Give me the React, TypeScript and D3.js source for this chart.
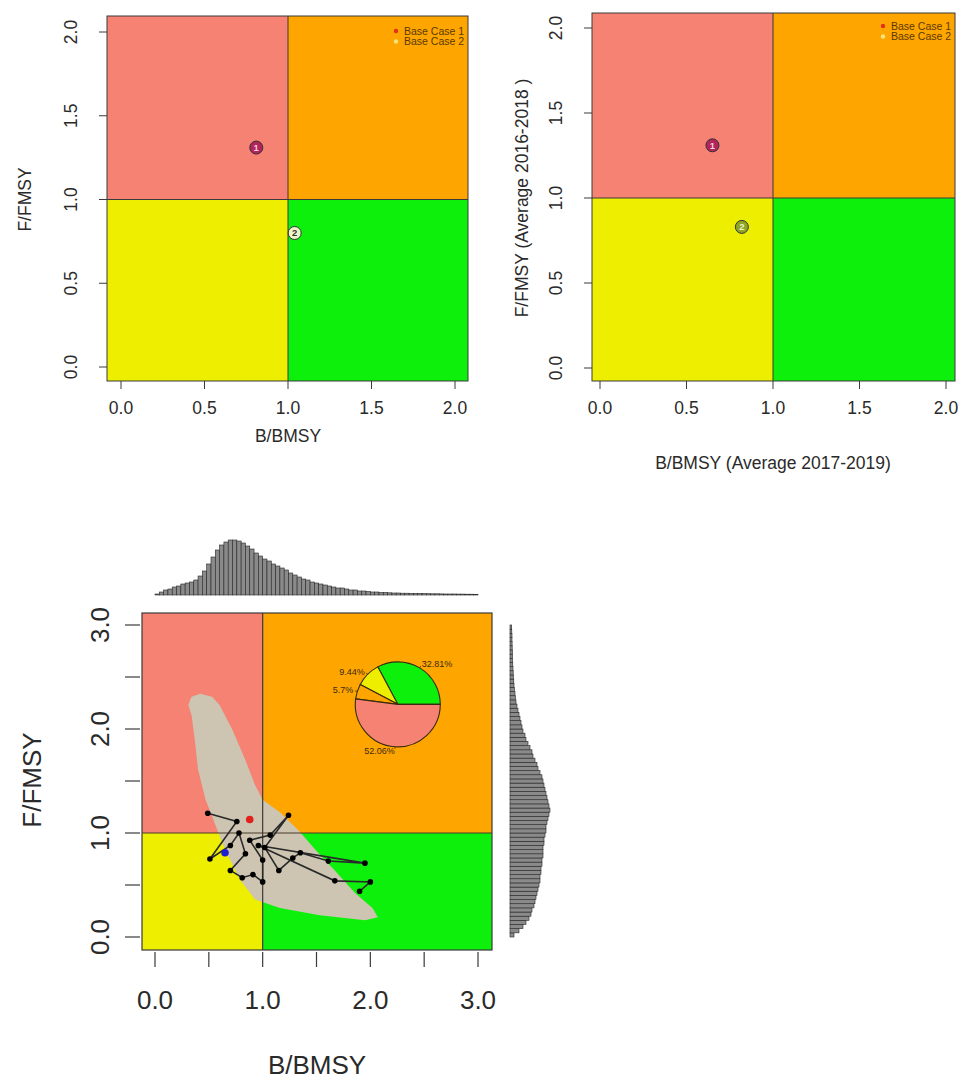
import React from "react";
import * as d3 from "d3";

// ---------- data ----------
const caseLabels = ["Base Case 1", "Base Case 2"];
const caseIds = ["1", "2"];

// Terminal-year stock status per case
const statusB = [0.81, 1.04];
const statusF = [1.31, 0.8];

// Multi-year average stock status per case
const avgB = [0.65, 0.82];
const avgF = [1.31, 0.83];

const smallTicks = [0, 0.5, 1, 1.5, 2];
const smallTickLabels = ["0.0", "0.5", "1.0", "1.5", "2.0"];
const bigTicks = [0, 0.5, 1, 1.5, 2, 2.5, 3];
const bigTickLabels = ["0.0", "", "1.0", "", "2.0", "", "3.0"];

// Historical trajectory (B/BMSY, F/FMSY by year)
const trajB = [0.49, 0.76, 0.51, 0.7, 0.78, 0.84, 0.7, 0.81, 0.91, 1.0, 1.0, 0.88, 1.07, 1.24, 1.02, 1.15, 1.28, 1.35, 1.61, 1.95, 0.96, 1.67, 2.0, 1.9];
const trajF = [1.19, 1.11, 0.75, 0.88, 1.0, 0.8, 0.64, 0.57, 0.6, 0.53, 0.74, 0.93, 0.98, 1.17, 0.86, 0.64, 0.76, 0.81, 0.73, 0.71, 0.88, 0.54, 0.53, 0.44];

// Highlighted years (first, last)
const markB = [0.65, 0.88];
const markF = [0.81, 1.13];

// Outline of the terminal-year uncertainty cloud
const cloudB = [0.34, 0.42, 0.53, 0.6, 0.72, 0.84, 0.93, 1.0, 1.16, 1.33, 1.49, 1.67, 1.86, 2.02, 2.07, 1.95, 1.53, 1.16, 0.93, 0.79, 0.65, 0.56, 0.47, 0.4, 0.37, 0.34, 0.31, 0.33];
const cloudF = [2.31, 2.34, 2.31, 2.23, 1.99, 1.7, 1.46, 1.32, 1.2, 1.03, 0.84, 0.64, 0.42, 0.28, 0.19, 0.16, 0.21, 0.28, 0.36, 0.55, 0.84, 1.08, 1.32, 1.61, 1.89, 2.13, 2.23, 2.29];

// Quadrant probabilities (green, yellow, orange, red)
const pieShares = [32.81, 9.44, 5.7, 52.06];
const pieLabels = ["32.81%", "9.44%", "5.7%", "52.06%"];

// Marginal densities, bins of 0.04 starting at 0
const binWidth = 0.04;
const margB = [1, 3, 5, 6, 8, 9, 11, 12, 13, 15, 19, 24, 31, 38, 45, 50, 53, 55, 55, 54, 52, 49, 46, 42, 39, 36, 34, 31, 29, 27, 25, 22, 20, 18, 16, 15, 13, 12, 11, 10, 9, 8, 7, 7, 6, 5, 5, 4, 4, 3.5, 3, 3, 2.5, 2.5, 2.2, 2, 2, 1.8, 1.8, 1.6, 1.5, 1.5, 1.4, 1.3, 1.2, 1.2, 1.1, 1, 1, 1, 0.9, 0.9, 0.8, 0.8, 0.7];
const margF = [4, 9, 13, 16, 19, 21, 22, 24, 25, 26, 27, 28, 29, 30, 30, 31, 31, 32, 32, 33, 33, 33, 34, 34, 35, 36, 36, 37, 38, 39, 40, 39, 38, 37, 36, 35, 34, 33, 32, 30, 28, 27, 25, 23, 22, 20, 18, 16, 15, 13, 12, 11, 10, 9, 8, 7, 6, 5.5, 5, 4.5, 4, 3.8, 3.5, 3.2, 3, 2.8, 2.6, 2.5, 2.4, 2.2, 2.1, 2, 2, 1.8, 1.7];

// ---------- styling ----------
const FONT = "'Liberation Sans', Arial, Helvetica, sans-serif";
const C_RED = "#F58272";
const C_ORANGE = "#FFA500";
const C_YELLOW = "#EEEE00";
const C_GREEN = "#0CF00C";
const C_LINE = "#3a3a3a";
const C_TEXT = "#2a2a2a";
const C_CLOUD = "#CDC5B1";
const FS_SMALL = 17.5;
const FS_BIG = 26;

type PanelCfg = {
  xr: [number, number];
  yr: [number, number];
  box: { l: number; r: number; t: number; b: number };
};

function Quadrants({ x, y, box }: { x: any; y: any; box: PanelCfg["box"] }) {
  const mx = x(1);
  const my = y(1);
  return (
    <g>
      <rect x={box.l} y={box.t} width={mx - box.l} height={my - box.t} fill={C_RED} />
      <rect x={mx} y={box.t} width={box.r - mx} height={my - box.t} fill={C_ORANGE} />
      <rect x={box.l} y={my} width={mx - box.l} height={box.b - my} fill={C_YELLOW} />
      <rect x={mx} y={my} width={box.r - mx} height={box.b - my} fill={C_GREEN} />
    </g>
  );
}

function SmallPanel({
  cfg,
  bs,
  fs,
  xTitle,
  yTitle,
  xTitleY,
  yTitleX,
  legendX,
  legendY,
  pt2Fill,
  pt2Text,
}: {
  cfg: PanelCfg;
  bs: number[];
  fs: number[];
  xTitle: string;
  yTitle: string;
  xTitleY: number;
  yTitleX: number;
  legendX: number;
  legendY: number;
  pt2Fill: string;
  pt2Text: string;
}) {
  const x = d3.scaleLinear().domain([0, 2]).range(cfg.xr);
  const y = d3.scaleLinear().domain([0, 2]).range(cfg.yr);
  const { box } = cfg;
  const fills = ["#B3245A", pt2Fill];
  const txt = ["#f4d0dc", pt2Text];
  const legendDots = ["#E0301E", "#F2E37A"];
  return (
    <g>
      <Quadrants x={x} y={y} box={box} />
      <line x1={x(1)} x2={x(1)} y1={box.t} y2={box.b} stroke={C_LINE} strokeWidth={1} />
      <line x1={box.l} x2={box.r} y1={y(1)} y2={y(1)} stroke={C_LINE} strokeWidth={1} />
      <rect x={box.l} y={box.t} width={box.r - box.l} height={box.b - box.t} fill="none" stroke={C_LINE} strokeWidth={1} />
      {smallTicks.map((t, i) => (
        <g key={"xt" + i}>
          <line x1={x(t)} x2={x(t)} y1={box.b} y2={box.b + 8} stroke={C_LINE} />
          <text x={x(t)} y={408} dy="0.35em" textAnchor="middle" fontSize={FS_SMALL} fill={C_TEXT} fontFamily={FONT}>
            {smallTickLabels[i]}
          </text>
        </g>
      ))}
      {smallTicks.map((t, i) => (
        <g key={"yt" + i}>
          <line x1={box.l - 8} x2={box.l} y1={y(t)} y2={y(t)} stroke={C_LINE} />
          <text
            transform={`translate(${box.l - 36},${y(t)}) rotate(-90)`}
            dy="0.35em"
            textAnchor="middle"
            fontSize={FS_SMALL}
            fill={C_TEXT}
            fontFamily={FONT}
          >
            {smallTickLabels[i]}
          </text>
        </g>
      ))}
      <text x={x(1)} y={xTitleY} dy="0.35em" textAnchor="middle" fontSize={FS_SMALL} fill={C_TEXT} fontFamily={FONT}>
        {xTitle}
      </text>
      <text
        transform={`translate(${yTitleX},${y(1)}) rotate(-90)`}
        dy="0.35em"
        textAnchor="middle"
        fontSize={FS_SMALL}
        fill={C_TEXT}
        fontFamily={FONT}
      >
        {yTitle}
      </text>
      {bs.map((b, i) => (
        <g key={"pt" + i}>
          <circle cx={x(b)} cy={y(fs[i])} r={6.5} fill={fills[i]} stroke="#333" strokeWidth={1} />
          <text x={x(b)} y={y(fs[i])} dy="0.36em" textAnchor="middle" fontSize={9.5} fontWeight="bold" fill={txt[i]} fontFamily={FONT}>
            {caseIds[i]}
          </text>
        </g>
      ))}
      {caseLabels.map((c, i) => (
        <g key={"lg" + i}>
          <circle cx={legendX} cy={legendY + i * 10.5} r={2.2} fill={legendDots[i]} />
          <text x={legendX + 8} y={legendY + i * 10.5} dy="0.35em" fontSize={10.5} fill="#5a3a00" fontFamily={FONT}>
            {c}
          </text>
        </g>
      ))}
    </g>
  );
}

function BigPanel() {
  const box = { l: 142, r: 492, t: 613, b: 950 };
  const x = d3.scaleLinear().domain([0, 3]).range([155, 478]);
  const y = d3.scaleLinear().domain([0, 3]).range([937, 625]);

  const cloudPts: [number, number][] = cloudB.map((b, i) => [x(b), y(cloudF[i])]);
  const cloudPath = d3.line().curve(d3.curveLinearClosed)(cloudPts) || "";
  const trajPts: [number, number][] = trajB.map((b, i) => [x(b), y(trajF[i])]);
  const trajPath = d3.line()(trajPts) || "";

  // Pie in R's convention: start at 3 o'clock, counter-clockwise
  const pieCx = x(2.255);
  const pieCy = y(2.237);
  const pieR = 42.5;
  const pieColors = [C_GREEN, C_YELLOW, C_ORANGE, C_RED];
  const arcs = d3
    .pie<number>()
    .sort(null)
    .startAngle(Math.PI / 2)
    .endAngle(Math.PI / 2 - 2 * Math.PI)(pieShares);
  const arcGen = d3.arc<any>().innerRadius(0).outerRadius(pieR);

  // Marginal histograms
  const hTop = d3.scaleLinear().domain([0, 55]).range([595, 540]);
  const hRight = d3.scaleLinear().domain([0, 40]).range([510, 550]);

  return (
    <g>
      <Quadrants x={x} y={y} box={box} />
      <path d={cloudPath} fill={C_CLOUD} stroke="none" />
      <line x1={x(1)} x2={x(1)} y1={box.t} y2={box.b} stroke={C_LINE} strokeWidth={1.2} />
      <line x1={box.l} x2={box.r} y1={y(1)} y2={y(1)} stroke="#4a3a2a" strokeWidth={1.2} />
      <path d={trajPath} fill="none" stroke="#2a2a2a" strokeWidth={1.6} />
      {trajPts.map((p, i) => (
        <circle key={"tp" + i} cx={p[0]} cy={p[1]} r={2.8} fill="#000" />
      ))}
      {markB.map((b, i) => (
        <circle key={"mk" + i} cx={x(b)} cy={y(markF[i])} r={3.8} fill={i === 0 ? "#1f1fd0" : "#e0201c"} />
      ))}
      <g transform={`translate(${pieCx},${pieCy})`}>
        {arcs.map((a, i) => (
          <path key={"arc" + i} d={arcGen(a) || ""} fill={pieColors[i]} stroke="#3a2a10" strokeWidth={1.1} />
        ))}
        {arcs.map((a, i) => {
          const mid = (a.startAngle + a.endAngle) / 2;
          const ux = Math.sin(mid);
          const uy = -Math.cos(mid);
          return (
            <g key={"pl" + i}>
              <line x1={ux * pieR} y1={uy * pieR} x2={ux * pieR * 1.05} y2={uy * pieR * 1.05} stroke="#3a2a10" strokeWidth={0.8} />
              <text
                x={ux * pieR * 1.1}
                y={uy * pieR * 1.1}
                dy="0.35em"
                textAnchor={ux < 0 ? "end" : "start"}
                fontSize={9}
                fill="#3a2a10"
                fontFamily={FONT}
              >
                {pieLabels[i]}
              </text>
            </g>
          );
        })}
      </g>
      <rect x={box.l} y={box.t} width={box.r - box.l} height={box.b - box.t} fill="none" stroke={C_LINE} strokeWidth={1.2} />
      {bigTicks.map((t, i) => (
        <g key={"bx" + i}>
          <line x1={x(t)} x2={x(t)} y1={box.b + 2} y2={box.b + 17} stroke={C_LINE} strokeWidth={1.2} />
          {bigTickLabels[i] && (
            <text x={x(t)} y={1000} dy="0.35em" textAnchor="middle" fontSize={FS_BIG} fill={C_TEXT} fontFamily={FONT}>
              {bigTickLabels[i]}
            </text>
          )}
        </g>
      ))}
      {bigTicks.map((t, i) => (
        <g key={"by" + i}>
          <line x1={box.l - 17} x2={box.l - 2} y1={y(t)} y2={y(t)} stroke={C_LINE} strokeWidth={1.2} />
          {bigTickLabels[i] && (
            <text
              transform={`translate(100,${y(t)}) rotate(-90)`}
              dy="0.35em"
              textAnchor="middle"
              fontSize={FS_BIG}
              fill={C_TEXT}
              fontFamily={FONT}
            >
              {bigTickLabels[i]}
            </text>
          )}
        </g>
      ))}
      <text x={317} y={1065} dy="0.35em" textAnchor="middle" fontSize={FS_BIG} fill={C_TEXT} fontFamily={FONT}>
        B/BMSY
      </text>
      <text transform={`translate(32,780) rotate(-90)`} dy="0.35em" textAnchor="middle" fontSize={FS_BIG} fill={C_TEXT} fontFamily={FONT}>
        F/FMSY
      </text>
      {/* marginal of B/BMSY */}
      <g>
        {margB.map((v, i) => (
          <rect
            key={"hb" + i}
            x={x(i * binWidth)}
            y={hTop(v)}
            width={x((i + 1) * binWidth) - x(i * binWidth)}
            height={hTop(0) - hTop(v)}
            fill="#8a8a8a"
            stroke="#262626"
            strokeWidth={0.6}
          />
        ))}
      </g>
      {/* marginal of F/FMSY */}
      <g>
        {margF.map((v, i) => (
          <rect
            key={"hf" + i}
            x={hRight(0)}
            y={y((i + 1) * binWidth)}
            width={hRight(v) - hRight(0)}
            height={y(i * binWidth) - y((i + 1) * binWidth)}
            fill="#8a8a8a"
            stroke="#262626"
            strokeWidth={0.6}
          />
        ))}
      </g>
    </g>
  );
}

export default function App() {
  const left: PanelCfg = { xr: [121, 455], yr: [367, 32], box: { l: 107, r: 468, t: 16, b: 381 } };
  const right: PanelCfg = { xr: [600, 946], yr: [368, 28], box: { l: 592, r: 955, t: 13, b: 381 } };
  return (
    <svg width={963} height={1080} style={{ position: "absolute", left: 0, top: 0, background: "#fff" }}>
      <rect width={963} height={1080} fill="#fff" />
      <SmallPanel
        cfg={left}
        bs={statusB}
        fs={statusF}
        xTitle="B/BMSY"
        yTitle="F/FMSY"
        xTitleY={436}
        yTitleX={25}
        legendX={396}
        legendY={31}
        pt2Fill="#EEF6C8"
        pt2Text="#333"
      />
      <SmallPanel
        cfg={right}
        bs={avgB}
        fs={avgF}
        xTitle="B/BMSY (Average 2017-2019)"
        yTitle="F/FMSY (Average 2016-2018 )"
        xTitleY={463}
        yTitleX={522}
        legendX={883}
        legendY={26}
        pt2Fill="#8FA624"
        pt2Text="#eef2d0"
      />
      <BigPanel />
    </svg>
  );
}
